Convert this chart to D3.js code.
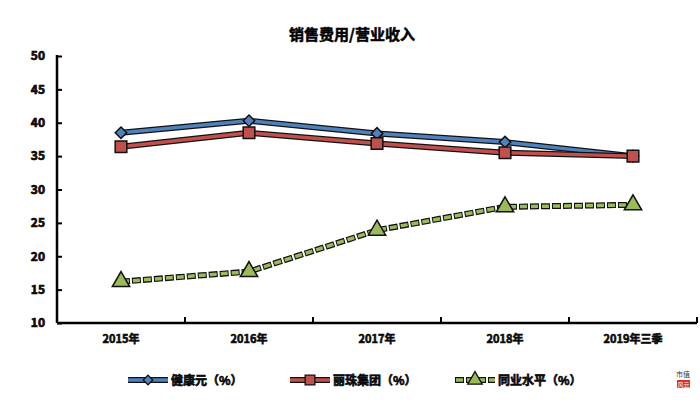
<!DOCTYPE html>
<html><head><meta charset="utf-8">
<script src="https://cdn.jsdelivr.net/npm/d3@7"></script>
<style>body{margin:0;background:#fff}svg{display:block}</style>
</head><body><svg id="c" width="700" height="405"></svg>
<script>
const categories = ["2015年","2016年","2017年","2018年","2019年三季"];
const jky = [38.5, 40.3, 38.4, 37.1, 35.0];
const lz  = [36.4, 38.5, 36.9, 35.5, 35.0];
const ind = [16.2, 17.7, 23.9, 27.4, 27.7];
const yTicks = [10,15,20,25,30,35,40,45,50];
const seriesNames = ["健康元（%）","丽珠集团（%）","同业水平（%）"];
const title = "销售费用/营业收入";

const svg = d3.select("#c");
const font = "'Noto Sans CJK SC', 'Liberation Sans', sans-serif";
const L = 57, R = 697, T = 56, B = 323;
const x = d3.scaleBand().domain(categories).range([L, R]);
const y = d3.scaleLinear().domain([10, 50]).range([B, T]);

svg.append("text").attr("x",352).attr("y",40).attr("text-anchor","middle")
  .attr("font-family",font).attr("font-weight","bold").attr("font-size",15).attr("fill","#000")
  .attr("stroke","#000").attr("stroke-width",0.5).text(title);

// y axis
const ya = svg.append("g").attr("transform",`translate(${L},0)`)
  .call(d3.axisRight(y).tickValues(yTicks).tickSize(5).tickFormat(d3.format("d")));
ya.select(".domain").remove();
ya.selectAll(".tick line").attr("stroke","#000").attr("stroke-width",2);
ya.selectAll(".tick text").attr("x",-12).attr("text-anchor","end").attr("font-family",font)
  .attr("font-weight","bold").attr("font-size",12).attr("fill","#111").attr("stroke","#000").attr("stroke-width",0.7);
svg.append("line").attr("x1",L).attr("x2",L).attr("y1",T-1).attr("y2",B).attr("stroke","#000").attr("stroke-width",2.5);

// x axis
const bounds = categories.map(c => x(c) + x.bandwidth());
svg.append("g").selectAll("line").data(bounds).join("line")
  .attr("x1",d=>d).attr("x2",d=>d).attr("y1",B).attr("y2",B-6).attr("stroke","#000").attr("stroke-width",2);
svg.append("line").attr("x1",L).attr("x2",R).attr("y1",B).attr("y2",B).attr("stroke","#000").attr("stroke-width",2.5);
svg.append("g").selectAll("text").data(categories).join("text")
  .attr("x",d=>x(d)+x.bandwidth()/2).attr("y",343).attr("text-anchor","middle")
  .attr("font-family",font).attr("font-weight","bold").attr("font-size",11).attr("fill","#111")
  .attr("stroke","#000").attr("stroke-width",0.6).text(d=>d);

const cx = d => x(d) + x.bandwidth()/2;
const line = d3.line().x((d,i)=>cx(categories[i])).y(d=>y(d));

const series = [
  {vals: jky, color:"#4F81BD", sym:d3.symbolSquare, rot:45, size:66, dash:null},
  {vals: lz, color:"#C0504D", sym:d3.symbolSquare, rot:0, size:135, dash:null},
  {vals: ind, color:"#9BBB59", sym:d3.symbolTriangle, rot:0, size:130, dash:"7,4"}
];

function drawLine(g, s, d) {
  g.append("path").attr("d", d).attr("fill","none").attr("stroke","#111").attr("stroke-width",6)
    .attr("stroke-dasharray", s.dash ? "9,2" : null).attr("stroke-linejoin","round");
  g.append("path").attr("d", d).attr("fill","none").attr("stroke",s.color).attr("stroke-width",3.5)
    .attr("stroke-dasharray", s.dash).attr("stroke-dashoffset", s.dash ? -1 : null).attr("stroke-linejoin","round");
}

[series[2], series[0], series[1]].forEach(s => {
  const g = svg.append("g");
  drawLine(g, s, line(s.vals));
  g.selectAll("path.m").data(s.vals).join("path").attr("class","m")
    .attr("transform",(d,i)=>`translate(${cx(categories[i])},${y(d)}) rotate(${s.rot})`)
    .attr("d", d3.symbol().type(s.sym).size(s.size)())
    .attr("fill", s.color).attr("stroke","#111").attr("stroke-width",1.5);
});

// legend
const legX = [128, 290, 455];
series.forEach((s, i) => {
  const g = svg.append("g");
  const ly = 380;
  drawLine(g, s, `M${legX[i]},${ly}H${legX[i]+40}`);
  g.append("path").attr("transform",`translate(${legX[i]+20},${ly}) rotate(${s.rot})`)
    .attr("d", d3.symbol().type(s.sym).size(s.size*0.7)())
    .attr("fill", s.color).attr("stroke","#111").attr("stroke-width",1.3);
  g.append("text").attr("x",legX[i]+43).attr("y",ly+5).attr("font-family",font)
    .attr("font-weight","bold").attr("font-size",12).attr("fill","#111")
    .attr("stroke","#000").attr("stroke-width",0.6).text(seriesNames[i]);
});

// logo
svg.append("text").attr("x",683).attr("y",377).attr("text-anchor","middle").attr("font-family",font)
  .attr("font-size",7).attr("fill","#333").text("市值");
svg.append("rect").attr("x",677).attr("y",380).attr("width",13).attr("height",8).attr("fill","#d9342b");
svg.append("text").attr("x",683.5).attr("y",387).attr("text-anchor","middle").attr("font-family",font)
  .attr("font-size",6).attr("fill","#fff").text("风云");
</script></body></html>
